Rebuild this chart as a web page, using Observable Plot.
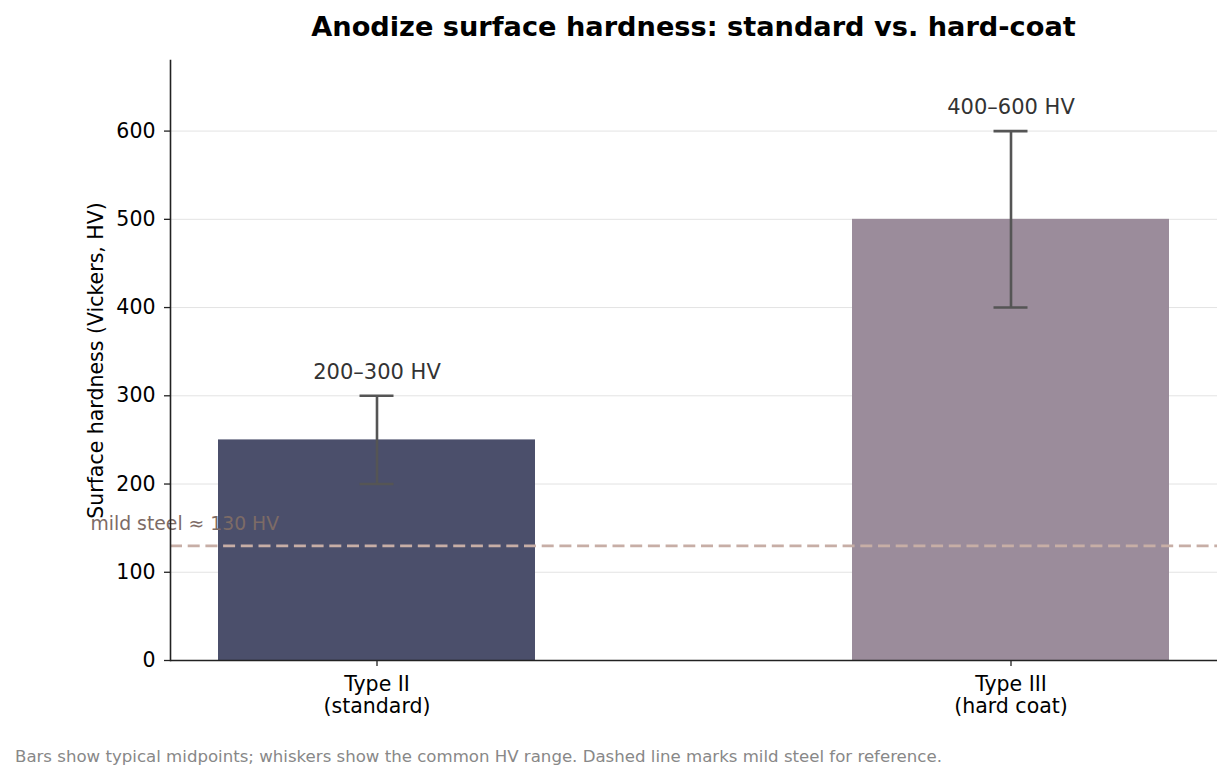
<!DOCTYPE html>
<html><head><meta charset="utf-8">
<script src="https://cdn.jsdelivr.net/npm/d3@7"></script>
<script src="https://cdn.jsdelivr.net/npm/@observablehq/plot@0.6"></script>
<style>
body{margin:0;background:#fff;font-family:"DejaVu Sans",sans-serif;}
#wrap{position:relative;width:1231px;height:781px;}
#title{position:absolute;left:170px;width:1047px;top:9px;text-align:center;font-weight:bold;font-size:27.2px;line-height:36px;color:#000;}
#chart{position:absolute;left:0;top:0;}
#caption{position:absolute;left:15px;top:746px;font-size:16.6px;color:#888;line-height:22px;white-space:nowrap;}
</style></head><body>
<div id="wrap"><div id="chart"></div>
<div id="title">Anodize surface hardness: standard vs. hard-coat</div>
<div id="caption">Bars show typical midpoints; whiskers show the common HV range. Dashed line marks mild steel for reference.</div>
</div>
<script>
const categories = ["Type II\n(standard)", "Type III\n(hard coat)"];
const midpoints = [250, 500];
const lows = [200, 400];
const highs = [300, 600];
const rangeLabels = ["200–300 HV", "400–600 HV"];
const yTicks = [0, 100, 200, 300, 400, 500, 600];
const mildSteel = 130;
const mildSteelLabel = "mild steel ≈ 130 HV";
const yLabel = "Surface hardness (Vickers, HV)";
const barColors = ["#4b4f6b", "#9b8c9b"];

const data = categories.map((c, i) => ({cat: c, mid: midpoints[i], lo: lows[i], hi: highs[i], label: rangeLabels[i]}));

const plot = Plot.plot({
  width: 1231, height: 730,
  marginTop: 60, marginBottom: 70, marginLeft: 170, marginRight: 14,
  style: {fontFamily: "DejaVu Sans, sans-serif", fontSize: "20px", color: "#000", background: "#fff"},
  x: {domain: categories, paddingInner: 0.5, paddingOuter: 0.075, label: null},
  y: {domain: [0, 680], label: null},
  color: {domain: categories, range: barColors},
  marks: [
    Plot.gridY(yTicks, {stroke: "#e3e3e3", strokeOpacity: 1, strokeWidth: 1}),
    Plot.barY(data, {x: "cat", y: "mid", fill: "cat"}),
    Plot.ruleY([mildSteel], {stroke: "#c7aea6", strokeWidth: 2.7, strokeDasharray: "12,5.7"}),
    Plot.text([mildSteel], {y: d => d, text: () => mildSteelLabel, frameAnchor: "left", textAnchor: "start", dx: -80, dy: -22, fill: "#7d6b66", fontSize: 18.8}),
    Plot.ruleX(data, {x: "cat", y1: "lo", y2: "hi", stroke: "#555", strokeWidth: 2.6}),
    Plot.tickY(data, {x: "cat", y: "lo", stroke: "#555", strokeWidth: 2.6, insetLeft: 141.5, insetRight: 141.5}),
    Plot.tickY(data, {x: "cat", y: "hi", stroke: "#555", strokeWidth: 2.6, insetLeft: 141.5, insetRight: 141.5}),
    Plot.text(data, {x: "cat", y: "hi", text: "label", dy: -24, fill: "#333", fontSize: 21}),
    Plot.axisY(yTicks, {tickSize: 6, tickPadding: 9, fontSize: 20.5, label: null, stroke: "#222", strokeWidth: 1.3, fill: "#000"}),
    Plot.axisX({tickSize: 6, tickPadding: 8, fontSize: 20.5, label: null, lineHeight: 1.1, stroke: "#222", strokeWidth: 1.3, fill: "#000"}),
    Plot.ruleY([0], {stroke: "#222", strokeWidth: 1.6}),
    Plot.frame({anchor: "left", stroke: "#222", strokeWidth: 1.6}),
    Plot.text([yLabel], {text: d => d, frameAnchor: "left", textAnchor: "middle", rotate: -90, dx: -74, fontSize: 20.5, fill: "#000"})
  ]
});
document.getElementById("chart").appendChild(plot);
</script>
</body></html>
